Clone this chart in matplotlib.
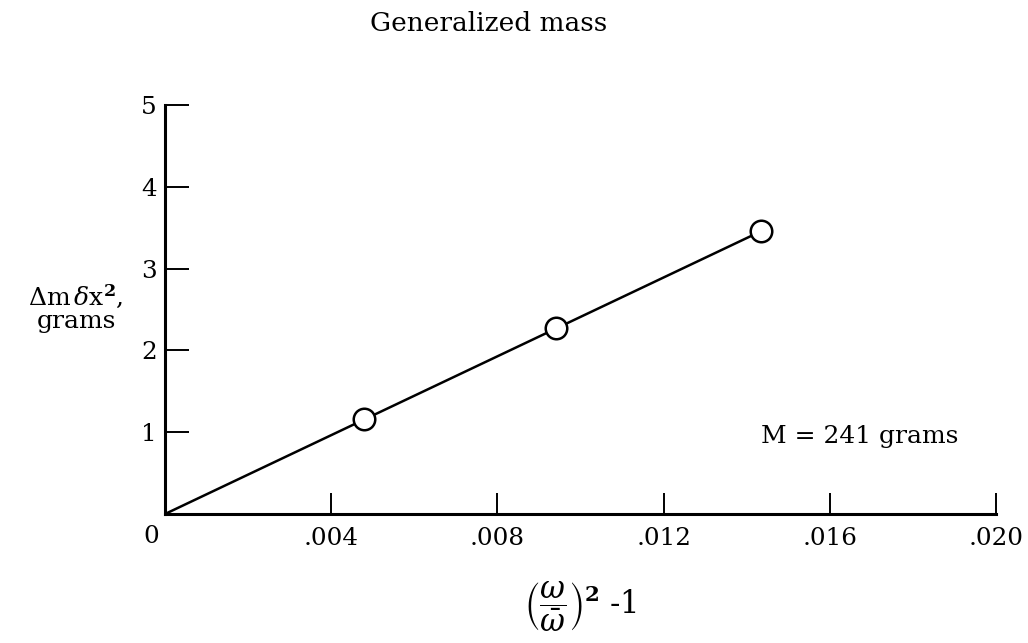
import numpy as np
import matplotlib
matplotlib.use("Agg")
import matplotlib.pyplot as plt

# measured points: frequency-ratio term vs added mass term
freq_term = [0.0048, 0.0094, 0.01435]
mass_term = [1.16, 2.27, 3.46]
gen_mass = 241  # grams, slope of the fitted line

x_ticks = [0, 0.004, 0.008, 0.012, 0.016, 0.020]
x_ticklabels = ["", ".004", ".008", ".012", ".016", ".020"]
y_ticks = [1, 2, 3, 4, 5]

matplotlib.rcParams["font.family"] = "DejaVu Serif"
matplotlib.rcParams["mathtext.fontset"] = "dejavuserif"

fig = plt.figure(figsize=(10.28, 6.43), dpi=100)
ax = fig.add_axes([0.1605, 0.2006, 0.8085, 0.6361])

# straight line through the origin, slope = generalized mass
line_x = np.array([0, freq_term[-1]])
ax.plot(line_x, gen_mass * line_x, color="black", lw=1.8, zorder=2)
ax.plot(freq_term, mass_term, "o", ms=15.5, mfc="white", mec="black", mew=1.8, zorder=3)

ax.set_xlim(0, 0.020)
ax.set_ylim(0, 5)
for s in ["top", "right"]:
    ax.spines[s].set_visible(False)
for s in ["left", "bottom"]:
    ax.spines[s].set_linewidth(2.2)

ax.set_xticks(x_ticks)
ax.set_xticklabels(x_ticklabels)
ax.set_yticks(y_ticks)
ax.tick_params(axis="x", direction="in", length=15, width=1.4, pad=9, labelsize=17.7)
ax.tick_params(axis="y", direction="in", length=17.5, width=1.4, pad=6, labelsize=17.7)
ax.xaxis.get_major_ticks()[0].tick1line.set_visible(False)

# shared origin label sits below-left of the corner
ax.annotate("0", xy=(0, 0), xytext=(-10, -16), textcoords="offset points",
            ha="center", va="center", fontsize=17.7)

ax.set_xlabel(r"$\left(\dfrac{\omega}{\bar{\omega}}\right)^{\mathbf{2}}$ -1",
              fontsize=22, labelpad=22)
fig.text(0.074, 0.522, "$\\Delta$m$\\,\\delta$x$^{\\mathbf{2}}$,\ngrams", ha="center",
         va="center", fontsize=18, linespacing=1.0)
ax.text(0.0191, 0.95, "M = 241 grams", fontsize=18, ha="right", va="center")
fig.text(0.475, 0.964, "Generalized mass", ha="center", va="center", fontsize=19)

plt.savefig("out.png", dpi=100)
